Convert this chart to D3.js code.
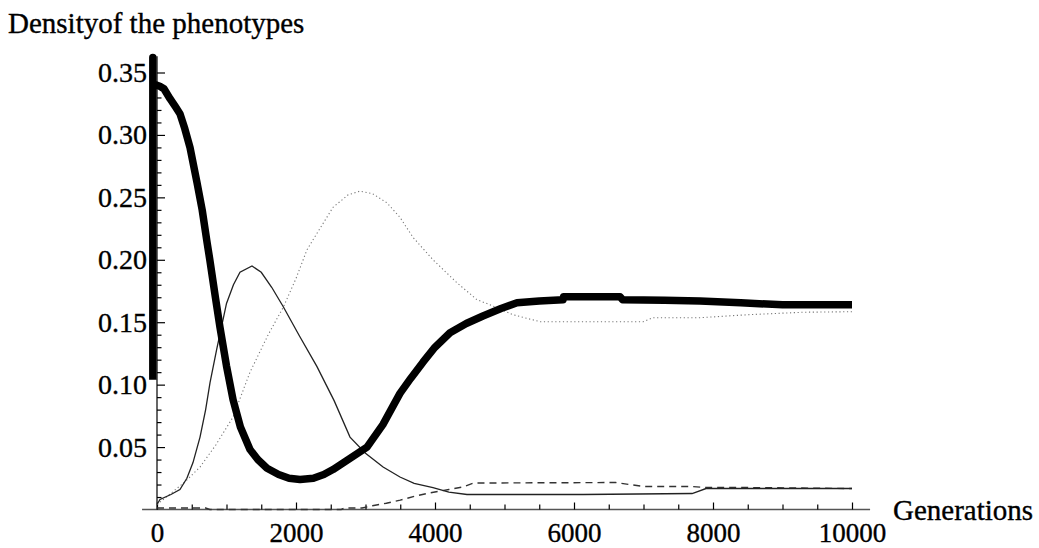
<!DOCTYPE html>
<html>
<head>
<meta charset="utf-8">
<script src="https://cdn.jsdelivr.net/npm/d3@7"></script>
<style>
  body { margin: 0; background: #fff; }
  text { font-family: "Liberation Serif", "DejaVu Serif", serif; fill: #000; stroke: #000; stroke-width: 0.35px; }
</style>
</head>
<body>
<div id="chart"></div>
<script>
// tick labels
const xMajor = [0, 2000, 4000, 6000, 8000, 10000];
const yMajor = [0.05, 0.10, 0.15, 0.20, 0.25, 0.30, 0.35];

// series: [generation, density]
const thickSeries = [
  [-60, 0.104], [-60, 0.362], [-60, 0.341],
  [40, 0.339], [100, 0.337], [187, 0.329], [260, 0.323], [330, 0.317], [400, 0.305],
  [475, 0.29], [575, 0.262], [650, 0.24], [720, 0.214], [760, 0.2], [840, 0.17],
  [906, 0.146], [1000, 0.115], [1094, 0.088], [1200, 0.066], [1338, 0.048], [1450, 0.04],
  [1583, 0.033], [1750, 0.028], [1900, 0.025], [2058, 0.024], [2250, 0.025], [2400, 0.028],
  [2532, 0.032], [2750, 0.04], [3022, 0.05], [3250, 0.068], [3496, 0.093], [3650, 0.105],
  [3827, 0.118], [4000, 0.13], [4216, 0.1416], [4450, 0.149], [4690, 0.155], [4950, 0.161],
  [5180, 0.1656], [5500, 0.167], [5842, 0.168], [5850, 0.1704], [6662, 0.1704],
  [6700, 0.168], [7300, 0.1675], [7813, 0.167], [8400, 0.1655], [9000, 0.164], [10000, 0.164]
];
const solidSeries = [
  [0, 0.004], [43, 0.008], [200, 0.012], [330, 0.016], [430, 0.025], [518, 0.0376],
  [619, 0.058], [700, 0.08], [763, 0.1016], [858, 0.128], [1000, 0.165], [1100, 0.18],
  [1194, 0.19], [1367, 0.195], [1500, 0.19], [1650, 0.178], [1817, 0.1624], [2050, 0.139],
  [2302, 0.1144], [2550, 0.087], [2777, 0.058], [3000, 0.045], [3253, 0.034], [3496, 0.026],
  [3700, 0.021], [3971, 0.0176], [4200, 0.014], [4460, 0.012], [6130, 0.012], [7700, 0.0128],
  [7900, 0.0168], [10000, 0.0168]
];
const dottedSeries = [
  [0, 0.004], [143, 0.0104], [400, 0.022], [619, 0.034], [850, 0.052], [1094, 0.074],
  [1338, 0.11], [1600, 0.14], [1817, 0.162], [2000, 0.185], [2158, 0.208], [2245, 0.216],
  [2532, 0.242], [2750, 0.252], [2920, 0.255], [3100, 0.253], [3309, 0.2456], [3496, 0.234],
  [3683, 0.218], [3971, 0.2], [4316, 0.1816], [4604, 0.168], [4791, 0.164], [5122, 0.156],
  [5511, 0.1504], [6993, 0.1504], [7137, 0.1536], [7813, 0.1536], [8500, 0.156],
  [9300, 0.158], [10000, 0.1584]
];
const dashedSeries = [
  [0, 0.0012], [700, 0.0012], [760, 0], [2650, 0], [2700, 0.0012], [2950, 0.0012],
  [3100, 0.003], [3300, 0.005], [3500, 0.0075], [3700, 0.0105], [3900, 0.013], [4200, 0.016],
  [4400, 0.018], [4550, 0.0212], [6600, 0.0216], [7000, 0.0184], [7700, 0.0184],
  [7900, 0.0176], [8500, 0.0176], [10000, 0.0168]
];

const svgWidth = 1039;
const svgHeight = 548;

var svg = d3.select("#chart")
  .append("svg")
  .attr("width", svgWidth)
  .attr("height", svgHeight);

var x = d3.scaleLinear().domain([0, 10000]).range([157, 852]);
var y = d3.scaleLinear().domain([0, 0.35]).range([509.5, 72.5]);

var xMinor = d3.range(0, 10001, 500).filter(d => d % 2000 !== 0);
var yMinor = d3.range(1, 36).map(d => d / 100).filter(d => Math.round(d * 100) % 5 !== 0);

var line = d3.line()
  .x(d => x(d[0]))
  .y(d => y(d[1]));

// axis lines
svg.append("line")
  .attr("x1", x(-215)).attr("x2", x(10260))
  .attr("y1", y(0)).attr("y2", y(0))
  .attr("stroke", "#555").attr("stroke-width", 1.5);

svg.append("line")
  .attr("x1", x(0)).attr("x2", x(0))
  .attr("y1", y(0)).attr("y2", y(0.363))
  .attr("stroke", "#000").attr("stroke-width", 1.2);

// x ticks pointing up, labels below
svg.append("g")
  .attr("transform", `translate(0, ${y(0)})`)
  .call(d3.axisBottom(x).tickValues(xMajor).tickSizeInner(-7).tickSizeOuter(0).tickPadding(13).tickFormat(d3.format("d")))
  .call(g => g.select(".domain").remove())
  .call(g => g.selectAll("line").attr("stroke", "#000").attr("stroke-width", 1.2))
  .call(g => g.selectAll("text").attr("font-size", 27).attr("font-family", null).attr("fill", "#000"));

svg.append("g")
  .attr("transform", `translate(0, ${y(0)})`)
  .call(d3.axisBottom(x).tickValues(xMinor).tickSizeInner(-5).tickSizeOuter(0).tickFormat(""))
  .call(g => g.select(".domain").remove())
  .call(g => g.selectAll("line").attr("stroke", "#000").attr("stroke-width", 1.2));

// y ticks pointing right, labels left
svg.append("g")
  .attr("transform", `translate(${x(0)}, 0)`)
  .call(d3.axisLeft(y).tickValues(yMajor).tickSizeInner(-8).tickSizeOuter(0).tickPadding(10).tickFormat(d3.format(".2f")))
  .call(g => g.select(".domain").remove())
  .call(g => g.selectAll("line").attr("stroke", "#000").attr("stroke-width", 1.2))
  .call(g => g.selectAll("text").attr("font-size", 28).attr("font-family", null).attr("fill", "#000"));

svg.append("g")
  .attr("transform", `translate(${x(0)}, 0)`)
  .call(d3.axisLeft(y).tickValues(yMinor).tickSizeInner(-4.5).tickSizeOuter(0).tickFormat(""))
  .call(g => g.select(".domain").remove())
  .call(g => g.selectAll("line").attr("stroke", "#000").attr("stroke-width", 1.2));

// series
svg.append("path")
  .datum(dottedSeries)
  .attr("d", line)
  .attr("fill", "none")
  .attr("stroke", "#777")
  .attr("stroke-width", 1.1)
  .attr("stroke-dasharray", "1.2,2.6");

svg.append("path")
  .datum(dashedSeries)
  .attr("d", line)
  .attr("fill", "none")
  .attr("stroke", "#333")
  .attr("stroke-width", 1.4)
  .attr("stroke-dasharray", "7,5");

svg.append("path")
  .datum(solidSeries)
  .attr("d", line)
  .attr("fill", "none")
  .attr("stroke", "#222")
  .attr("stroke-width", 1.3);

svg.append("path")
  .datum(thickSeries)
  .attr("d", line)
  .attr("fill", "none")
  .attr("stroke", "#000")
  .attr("stroke-width", 7.5)
  .attr("stroke-linejoin", "round");

// labels
svg.append("text")
  .attr("x", 8)
  .attr("y", 33)
  .attr("font-size", 29)
  .text("Densityof the phenotypes");

svg.append("text")
  .attr("x", 893)
  .attr("y", 520)
  .attr("font-size", 29)
  .text("Generations");
</script>
</body>
</html>
